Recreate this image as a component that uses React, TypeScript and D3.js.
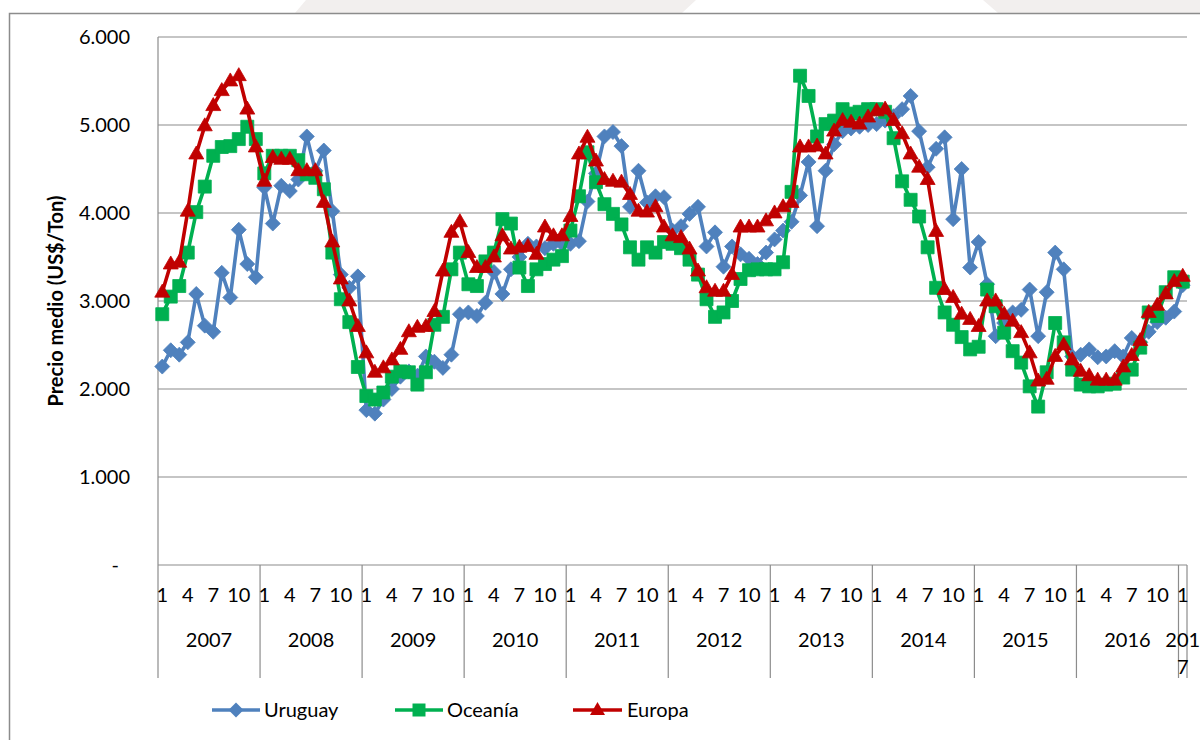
import React from "react";
import * as d3 from "d3";

// ---------- DATA ----------
const years = ["2007", "2008", "2009", "2010", "2011", "2012", "2013", "2014", "2015", "2016", "2017"];
const monthTickLabels = ["1", "4", "7", "10"];
const yTickValues = [0, 1000, 2000, 3000, 4000, 5000, 6000];
const seriesNames = ["Uruguay", "Oceanía", "Europa"];

const uruguay = [
  2255, 2440, 2390, 2530, 3080, 2720, 2650, 3320, 3040, 3810, 3420, 3270,
  4290, 3880, 4310, 4250, 4380, 4870, 4480, 4710, 4020, 3300, 3150, 3280,
  1760, 1720, 1880, 2000, 2140, 2200, 2150, 2370, 2310, 2240, 2390, 2850,
  2870, 2830, 2980, 3330, 3080, 3360, 3500, 3650, 3620, 3600, 3650, 3650,
  3650, 3680, 4130, 4450, 4870, 4920, 4760, 4070, 4480, 4120, 4190, 4180,
  3800, 3850, 3990, 4070, 3620, 3780, 3390, 3620, 3530, 3480, 3420, 3550,
  3700, 3800, 3900, 4200, 4580, 3850, 4480, 4780, 4930, 4960, 4980, 5000,
  5010, 5050, 5100, 5180, 5330, 4930, 4520, 4730, 4860, 3930, 4500, 3380,
  3670, 3190, 2600, 2750, 2870, 2900, 3130, 2600, 3100, 3550, 3360, 2370,
  2390, 2450, 2360, 2370, 2430, 2370, 2580, 2530, 2650, 2760, 2810, 2880,
  3180,
];

const oceania = [
  2850, 3050, 3170, 3550, 4010, 4300, 4650, 4750, 4760, 4840, 4980, 4840,
  4450, 4650, 4650, 4650, 4600, 4440, 4400, 4270, 3550, 3020, 2760, 2250,
  1920, 1880, 1960, 2140, 2200, 2190, 2050, 2190, 2730, 2820, 3360, 3550,
  3190, 3170, 3450, 3550, 3930, 3880, 3380, 3170, 3360, 3420, 3470, 3510,
  3800, 4190, 4690, 4350, 4100, 3990, 3870, 3610, 3470, 3610, 3550, 3670,
  3650, 3600, 3470, 3300, 3020, 2820, 2870, 3000, 3250, 3350, 3360, 3360,
  3360, 3440, 4240, 5560, 5330, 4870, 5010, 5050, 5180, 5130, 5150, 5180,
  5180, 5150, 4850, 4360, 4150, 3960, 3610, 3150, 2870, 2730, 2590, 2450,
  2480, 3130, 2940, 2640, 2430, 2300, 2030, 1800, 2190, 2750, 2530, 2220,
  2050, 2030, 2030, 2050, 2060, 2130, 2220, 2470, 2870, 2830, 3100, 3270,
  3220,
];

const europa = [
  3100, 3420, 3440, 4020, 4670, 4990, 5220, 5390, 5500, 5560, 5180, 4750,
  4360, 4630, 4610, 4610, 4480, 4480, 4480, 4120, 3670, 3250, 3000, 2710,
  2410, 2190, 2240, 2330, 2450, 2650, 2700, 2710, 2880, 3340, 3780, 3900,
  3550, 3380, 3380, 3500, 3740, 3590, 3610, 3620, 3530, 3840, 3740, 3740,
  3960, 4670, 4860, 4590, 4380, 4360, 4350, 4210, 4020, 4010, 4070, 3840,
  3740, 3720, 3590, 3340, 3150, 3110, 3110, 3300, 3840, 3840, 3840, 3910,
  4000, 4070, 4120, 4750, 4750, 4760, 4670, 4930, 5050, 5030, 5010, 5090,
  5160, 5180, 5050, 4900, 4670, 4520, 4380, 3790, 3130, 3040, 2850, 2790,
  2710, 3000, 3000, 2850, 2770, 2640, 2410, 2090, 2110, 2370, 2500, 2330,
  2200, 2150, 2100, 2100, 2100, 2250, 2380, 2550, 2870, 2950, 3080, 3220,
  3280,
];

// ---------- LAYOUT / STYLE ----------
const W = 1200;
const H = 740;
const plotLeft = 158;
const plotRight = 1187;
const plotTop = 37;
const plotBottom = 565;
const catBottom = 678;
const FONT = "Lato, 'Open Sans', sans-serif";
const GRID = "#8C8C8C";
const colors = ["#4F81BD", "#00B050", "#C00000"];
const shapes = ["diamond", "square", "triangle"];

const N = uruguay.length;
const categories = d3.range(N).map((i) => ({
  year: years[Math.floor(i / 12)],
  month: (i % 12) + 1,
}));

const x = d3.scaleBand<number>().domain(d3.range(N)).range([plotLeft, plotRight]).padding(0);
const cx = (i: number) => (x(i) as number) + x.bandwidth() / 2;
const y = d3.scaleLinear().domain([0, 6000]).range([plotBottom, plotTop]);

const locale = d3.formatLocale({ decimal: ",", thousands: ".", grouping: [3], currency: ["$", ""] });
const fmt = locale.format(",");

function markerPath(shape: string, px: number, py: number): string {
  if (shape === "diamond") {
    const r = 7.5;
    return `M${px},${py - r}L${px + r},${py}L${px},${py + r}L${px - r},${py}Z`;
  }
  if (shape === "square") {
    const s = 6.5;
    return `M${px - s},${py - s}H${px + s}V${py + s}H${px - s}Z`;
  }
  const w = 7.5;
  const h = 13;
  return `M${px},${py - h * 0.62}L${px + w},${py + h * 0.38}L${px - w},${py + h * 0.38}Z`;
}

const allSeries = [uruguay, oceania, europa];

export default function App() {
  const line = d3
    .line<number>()
    .x((_, i) => cx(i))
    .y((v) => y(v));

  const yearStarts = years.map((_, k) => x(k * 12) as number);

  const legendItems = [
    { x0: 212, x1: 260, tx: 264 },
    { x0: 395, x1: 443, tx: 447 },
    { x0: 573, x1: 622, tx: 627 },
  ];
  const legendY = 710;

  return (
    <svg
      width={W}
      height={H}
      style={{ position: "absolute", left: 0, top: 0, background: "#fff" }}
      fontFamily={FONT}
    >
      {/* top slide band */}
      <rect x={0} y={0} width={W} height={13} fill="#F2EFEE" />
      <path d="M0,0H306L295,13H0Z" fill="#fff" />
      <path d="M696,0H983L998,13H682Z" fill="#fff" />
      {/* chart area border */}
      <rect x={9.5} y={13.5} width={1300} height={800} fill="#fff" stroke={GRID} strokeWidth={1.5} />

      {/* gridlines */}
      {yTickValues
        .filter((v) => v > 0)
        .map((v) => (
          <line key={v} x1={plotLeft} x2={plotRight} y1={y(v)} y2={y(v)} stroke={GRID} strokeWidth={1.2} />
        ))}
      {/* axes */}
      <line x1={plotLeft} x2={plotRight} y1={plotBottom} y2={plotBottom} stroke={GRID} strokeWidth={1.2} />
      <line x1={plotLeft} x2={plotLeft} y1={plotTop} y2={catBottom} stroke={GRID} strokeWidth={1.2} />
      {yearStarts.slice(1).map((xs, k) => (
        <line key={k} x1={xs} x2={xs} y1={plotBottom} y2={catBottom} stroke={GRID} strokeWidth={1.2} />
      ))}
      <line x1={plotRight} x2={plotRight} y1={plotBottom} y2={catBottom} stroke={GRID} strokeWidth={1.2} />

      {/* y tick labels */}
      {yTickValues.map((v) => (
        <text
          key={v}
          x={v === 0 ? 119 : 130}
          y={y(v)}
          dy="0.35em"
          textAnchor="end"
          fontSize={20}
          fill="#000"
        >
          {v === 0 ? "-" : fmt(v)}
        </text>
      ))}

      {/* y axis title */}
      <text
        transform={`translate(56,301) rotate(-90)`}
        textAnchor="middle"
        dy="0.35em"
        fontSize={20}
        fontWeight="bold"
        fill="#000"
      >
        Precio medio (US$/Ton)
      </text>

      {/* month labels */}
      {categories.map((c, i) =>
        monthTickLabels.includes(String(c.month)) ? (
          <text key={i} x={cx(i)} y={595} dy="0.35em" textAnchor="middle" fontSize={20} fill="#000">
            {String(c.month)}
          </text>
        ) : null
      )}

      {/* year labels */}
      {years.map((yr, k) => {
        const start = yearStarts[k];
        const end = k + 1 < years.length ? yearStarts[k + 1] : plotRight;
        const mid = (start + end) / 2;
        if (yr === "2017") {
          return (
            <g key={yr}>
              <text x={mid} y={640} dy="0.35em" textAnchor="middle" fontSize={20} fill="#000">
                {yr.slice(0, 3)}
              </text>
              <text x={mid} y={667} dy="0.35em" textAnchor="middle" fontSize={20} fill="#000">
                {yr.slice(3)}
              </text>
            </g>
          );
        }
        return (
          <text key={yr} x={mid} y={640} dy="0.35em" textAnchor="middle" fontSize={20} fill="#000">
            {yr}
          </text>
        );
      })}

      {/* series */}
      {allSeries.map((data, s) => (
        <g key={s}>
          <path
            d={line(data) as string}
            fill="none"
            stroke={colors[s]}
            strokeWidth={3.6}
            strokeLinejoin="round"
            strokeLinecap="round"
          />
          {data.map((v, i) => (
            <path key={i} d={markerPath(shapes[s], cx(i), y(v))} fill={colors[s]} stroke={colors[s]} strokeWidth={0.8} />
          ))}
        </g>
      ))}

      {/* legend */}
      {seriesNames.map((name, s) => {
        const it = legendItems[s];
        return (
          <g key={name}>
            <line x1={it.x0} x2={it.x1} y1={legendY} y2={legendY} stroke={colors[s]} strokeWidth={3.6} />
            <path d={markerPath(shapes[s], (it.x0 + it.x1) / 2, legendY)} fill={colors[s]} />
            <text x={it.tx} y={legendY} dy="0.35em" fontSize={20} fill="#000">
              {name}
            </text>
          </g>
        );
      })}
    </svg>
  );
}
